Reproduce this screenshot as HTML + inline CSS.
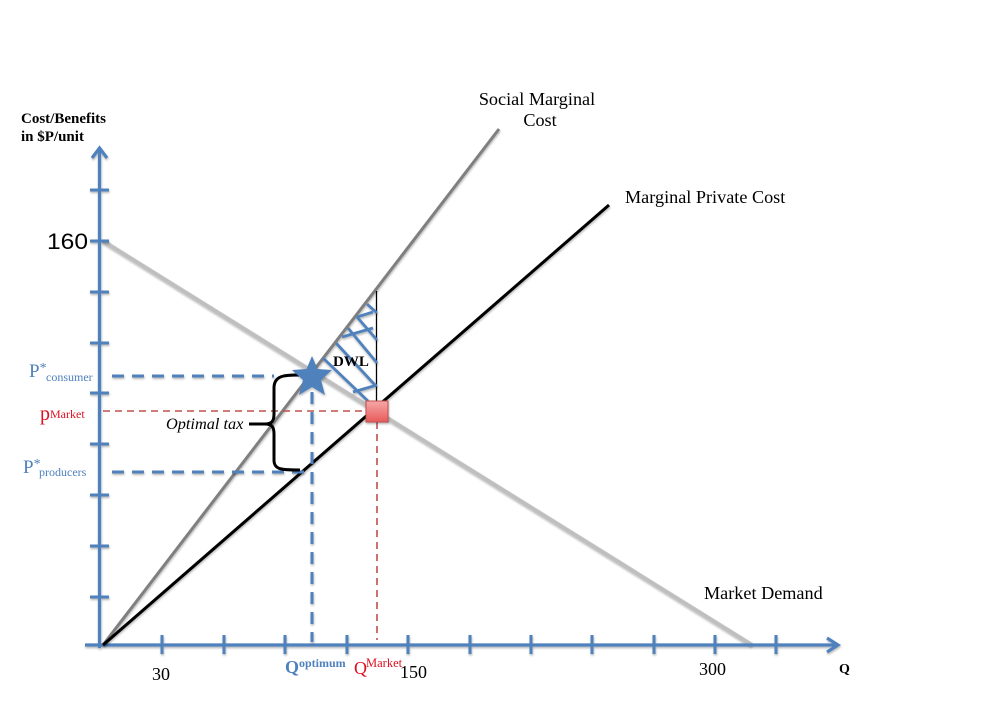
<!DOCTYPE html>
<html>
<head>
<meta charset="utf-8">
<style>
html,body{margin:0;padding:0;background:#fff;width:997px;height:726px;overflow:hidden}
svg{display:block}
text{font-family:"Liberation Serif",serif}
</style>
</head>
<body>
<svg width="997" height="726" viewBox="0 0 997 726" xmlns="http://www.w3.org/2000/svg">
<defs>
<linearGradient id="rg" x1="0" y1="0" x2="0" y2="1">
<stop offset="0" stop-color="#f6a8a8"/>
<stop offset="1" stop-color="#e85a5a"/>
</linearGradient>
<filter id="sh" filterUnits="userSpaceOnUse" x="0" y="0" width="997" height="726">
<feDropShadow dx="0.5" dy="1.5" stdDeviation="1" flood-color="#000" flood-opacity="0.3"/>
</filter>
</defs>
<rect width="997" height="726" fill="#fff"/>

<!-- Demand -->
<line x1="103" y1="241" x2="752" y2="645" stroke="#bfbfbf" stroke-width="4" filter="url(#sh)"/>

<!-- Axes -->
<g stroke="#4f81bd" stroke-width="3.2" fill="none" filter="url(#sh)">
<line x1="99.5" y1="150" x2="99.5" y2="648"/>
<line x1="85" y1="645" x2="836" y2="645"/>
<polyline points="92,158 99.5,148 107,158"/>
<polyline points="827,638 838,645 827,652"/>
<g stroke-width="3">
<line x1="90" y1="190" x2="109" y2="190"/>
<line x1="90" y1="241" x2="109" y2="241"/>
<line x1="90" y1="292" x2="109" y2="292"/>
<line x1="90" y1="343" x2="109" y2="343"/>
<line x1="90" y1="393" x2="109" y2="393"/>
<line x1="90" y1="444" x2="109" y2="444"/>
<line x1="90" y1="495" x2="109" y2="495"/>
<line x1="90" y1="546" x2="109" y2="546"/>
<line x1="90" y1="597" x2="109" y2="597"/>
<line x1="162" y1="635" x2="162" y2="654"/>
<line x1="224" y1="635" x2="224" y2="654"/>
<line x1="285" y1="635" x2="285" y2="654"/>
<line x1="347" y1="635" x2="347" y2="654"/>
<line x1="408" y1="635" x2="408" y2="654"/>
<line x1="470" y1="635" x2="470" y2="654"/>
<line x1="531" y1="635" x2="531" y2="654"/>
<line x1="592" y1="635" x2="592" y2="654"/>
<line x1="654" y1="635" x2="654" y2="654"/>
<line x1="715" y1="635" x2="715" y2="654"/>
<line x1="776" y1="635" x2="776" y2="654"/>
</g>
</g>

<!-- Cost curves -->
<line x1="103" y1="645" x2="499" y2="129" stroke="#7f7f7f" stroke-width="3" filter="url(#sh)"/>
<line x1="103" y1="645" x2="609" y2="205" stroke="#000" stroke-width="3" filter="url(#sh)"/>

<!-- DWL -->
<line x1="376.5" y1="291" x2="376.5" y2="401" stroke="#000" stroke-width="1.3"/>
<g stroke="#4f81bd" stroke-width="2.8" fill="none" filter="url(#sh)">
<line x1="367" y1="304" x2="377" y2="313"/>
<line x1="357" y1="317" x2="377" y2="340"/>
<line x1="348" y1="328" x2="377" y2="363"/>
<line x1="336" y1="343" x2="375" y2="385"/>
<line x1="323" y1="358" x2="368" y2="401"/>
<line x1="357" y1="317" x2="373" y2="312"/>
<line x1="342" y1="337" x2="373" y2="328"/>
<line x1="353" y1="392" x2="377" y2="385"/>
</g>

<!-- Dashes -->
<g stroke="#4f81bd" stroke-width="3" fill="none" stroke-dasharray="12 8" filter="url(#sh)">
<line x1="112" y1="376" x2="274" y2="376"/>
<line x1="112" y1="472" x2="312" y2="472"/>
<line x1="312" y1="392" x2="312" y2="642"/>
</g>
<g stroke="#c0504d" stroke-width="1.6" fill="none" stroke-dasharray="7 5">
<line x1="103" y1="411" x2="366" y2="411"/>
<line x1="377" y1="422" x2="377" y2="640"/>
</g>

<!-- Brace -->
<path d="M300,375 C285,375 274,375 274,388 L274,414 C274,421 272,424 265,424 L249,424 M265,424 C272,424 274,427 274,434 L274,460 C274,470 282,470 300,470" fill="none" stroke="#000" stroke-width="3"/>

<!-- Star -->
<polygon points="312,356 317.5,369 332,370 321,380 325,395 312,387 299,395 303,380 292,370 306.5,369" fill="#4f81bd" filter="url(#sh)"/>

<!-- Market point -->
<rect x="366" y="401" width="22" height="21" fill="url(#rg)" stroke="#c0504d" stroke-width="1" filter="url(#sh)"/>

<!-- Labels -->
<text x="21" y="123" font-size="15" font-weight="bold">Cost/Benefits</text>
<text x="21" y="141" font-size="15" font-weight="bold">in $P/unit</text>
<text x="47" y="249" font-size="22" style="font-family:'Liberation Sans',sans-serif" textLength="41" lengthAdjust="spacingAndGlyphs">160</text>

<text x="537" y="105" font-size="18.2" text-anchor="middle">Social Marginal</text>
<text x="540" y="126" font-size="18.2" text-anchor="middle">Cost</text>
<text x="625" y="203" font-size="18.2">Marginal Private Cost</text>
<text x="704" y="599" font-size="18.2">Market Demand</text>

<text x="333" y="366" font-size="15" font-weight="bold">DWL</text>

<text x="29" y="377" font-size="19" fill="#4f81bd">P<tspan font-size="14" dy="-5">*</tspan></text>
<text x="46" y="381" font-size="12" fill="#4f81bd">consumer</text>
<text x="40" y="420" font-size="20" fill="#e01020">p</text>
<text x="50" y="418" font-size="12" fill="#e01020">Market</text>
<text x="23" y="473" font-size="19" fill="#4f81bd">P<tspan font-size="14" dy="-5">*</tspan></text>
<text x="39" y="476" font-size="12" fill="#4f81bd">producers</text>
<text x="166" y="429" font-size="16.3" font-style="italic">Optimal tax</text>

<text x="285" y="673" font-size="18" font-weight="bold" fill="#4f81bd">Q</text>
<text x="299" y="667" font-size="12" font-weight="bold" fill="#4f81bd">optimum</text>
<text x="354" y="674" font-size="18" fill="#e01020">Q</text>
<text x="366" y="667" font-size="12.5" fill="#e01020">Market</text>
<text x="152" y="680" font-size="18">30</text>
<text x="400" y="678" font-size="18">150</text>
<text x="699" y="675" font-size="18">300</text>
<text x="839" y="673" font-size="14" font-weight="bold">Q</text>
</svg>
</body>
</html>
